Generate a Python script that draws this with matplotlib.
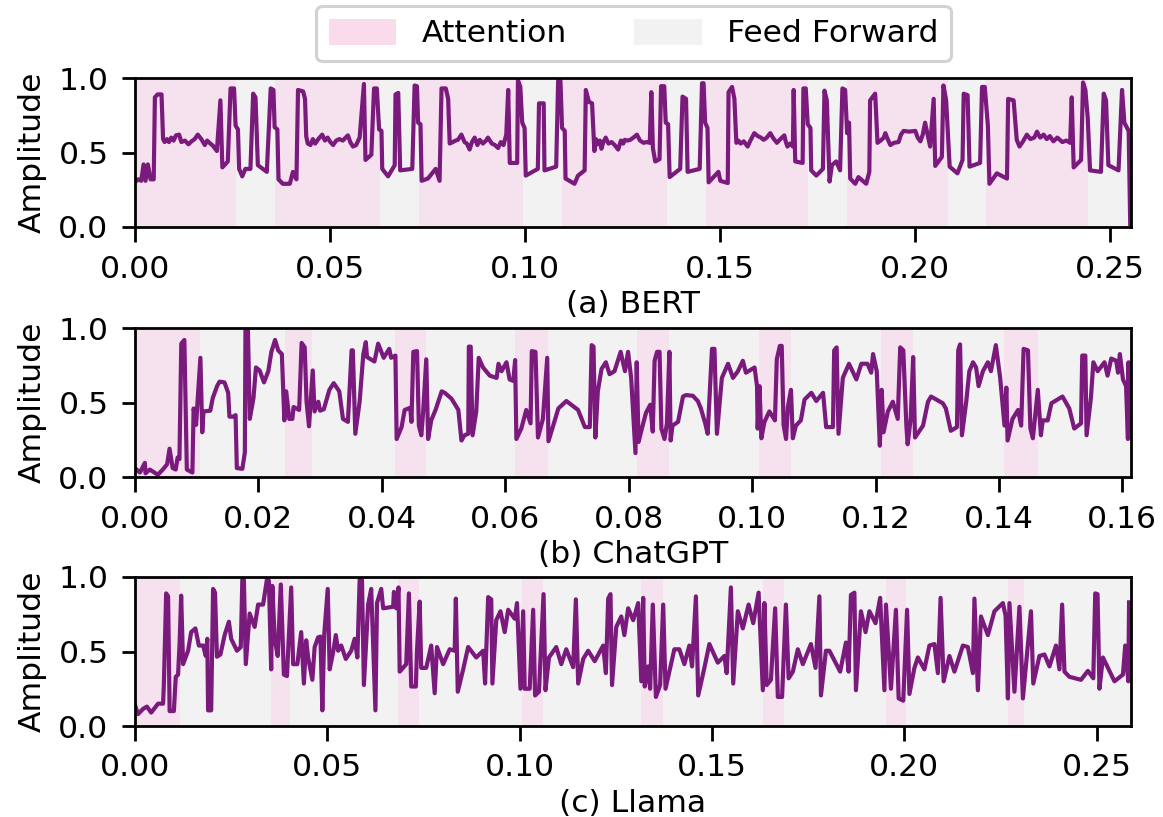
import numpy as np
import matplotlib
matplotlib.use('Agg')
import matplotlib.pyplot as plt
from matplotlib.patches import Patch

# (time in s, amplitude)
bert_trace = [
    (0.0000,.30),(.0008,.32),(.0016,.31),(.0022,.42),(.0027,.31),(.0033,.42),(.0040,.32),(.0048,.32),(.0051,.87),(.0058,.89),
    (.0068,.89),(.0072,.59),(.0076,.57),(.0082,.59),(.0087,.57),(.0093,.60),(.0099,.58),(.0105,.615),(.0113,.62),(.0119,.57),
    (.0128,.58),(.0137,.555),(.0145,.575),(.0153,.59),(.0161,.62),(.0170,.59),(.0179,.55),(.0185,.58),(.0191,.565),(.0200,.545),
    (.0210,.51),(.0219,.85),(.0224,.40),(.0238,.44),(.0245,.93),(.0254,.93),(.0258,.68),(.0264,.655),(.0267,.39),(.0275,.34),
    (.0283,.39),(.0296,.39),(.0303,.895),(.0309,.87),(.0315,.415),(.0338,.37),(.0348,.93),(.0355,.92),(.0358,.67),(.0365,.655),
    (.0368,.32),(.0379,.29),(.0397,.29),(.0405,.37),(.0414,.32),(.0418,.92),(.0431,.91),(.0436,.86),(.0439,.61),(.0443,.56),
    (.0450,.55),(.0456,.59),(.0462,.56),(.0470,.59),(.0480,.62),(.0487,.58),(.0494,.60),(.0501,.57),(.0508,.55),(.0516,.58),
    (.0524,.59),(.0533,.58),(.0540,.60),(.0546,.615),(.0552,.57),(.0559,.54),(.0567,.55),(.0576,.60),(.0587,.96),
    (.0591,.45),(.0606,.485),(.0613,.93),(.0620,.93),(.0626,.655),(.0632,.645),(.0634,.39),(.0649,.34),(.0666,.415),(.0668,.89),
    (.0675,.90),(.0680,.38),(.0711,.39),(.0717,.95),(.0723,.945),(.0726,.70),(.0732,.69),(.0735,.31),(.0751,.325),(.0771,.39),
    (.0781,.31),(.0786,.93),(.0797,.93),(.0803,.86),(.0807,.56),(.0815,.57),(.0822,.58),(.0828,.585),(.0837,.62),(.0845,.57),
    (.0851,.56),(.0858,.52),(.0864,.57),(.0871,.60),(.0878,.55),(.0884,.585),(.0892,.56),(.0900,.58),(.0905,.60),(.0915,.56),
    (.0923,.55),(.0931,.53),(.0938,.57),(.0945,.55),(.0952,.62),(.0957,.92),(.0961,.43),(.0980,.43),(.0982,.985),(.0988,.94),
    (.0993,.70),(.0999,.665),(.1002,.345),(.1033,.39),(.1036,.83),(.1048,.83),(.1050,.38),(.1080,.405),(.1085,.98),(.1091,.98),
    (.1095,.665),(.1102,.645),(.1104,.325),(.1127,.29),(.1136,.345),(.1153,.38),(.1156,.92),(.1164,.84),(.1172,.83),(.1178,.51),
    (.1182,.59),(.1187,.555),(.1192,.58),(.1196,.525),(.1201,.57),(.1207,.60),(.1214,.56),(.1222,.57),(.1230,.55),(.1239,.52),
    (.1246,.58),(.1252,.56),(.1256,.585),(.1263,.58),(.1270,.585),(.1278,.60),(.1287,.62),(.1295,.58),(.1304,.565),(.1312,.57),
    (.1320,.565),(.1324,.905),(.1328,.53),(.1334,.44),(.1345,.455),(.1349,.945),(.1357,.945),(.1361,.70),(.1367,.69),(.1371,.335),
    (.1398,.39),(.1404,.875),(.1413,.86),(.1417,.37),(.1448,.39),(.1454,.965),(.1458,.965),(.1462,.70),(.1468,.665),(.1471,.30),
    (.1496,.37),(.1501,.31),(.1520,.295),(.1522,.905),(.1531,.94),(.1537,.86),(.1542,.565),(.1547,.58),(.1553,.56),(.1561,.575),
    (.1571,.54),(.1578,.58),(.1588,.63),(.1597,.61),(.1605,.60),(.1612,.585),(.1620,.60),(.1629,.63),(.1637,.595),(.1646,.565),
    (.1655,.59),(.1665,.615),(.1669,.57),(.1673,.54),(.1680,.56),(.1687,.54),(.1689,.92),(.1693,.44),(.1712,.43),(.1714,.93),
    (.1720,.93),(.1725,.69),(.1732,.665),(.1734,.38),(.1747,.345),(.1764,.39),(.1768,.915),(.1774,.85),(.1781,.305),(.1787,.415),
    (.1798,.44),(.1808,.38),(.1814,.93),(.1821,.92),(.1826,.63),(.1831,.70),(.1834,.325),(.1847,.29),(.1855,.335),(.1875,.29),
    (.1883,.37),(.1885,.85),(.1898,.895),(.1904,.565),(.1912,.58),(.1920,.60),(.1924,.63),(.1930,.59),(.1937,.55),(.1946,.565),
    (.1958,.57),(.1964,.62),(.1971,.645),(.1985,.64),(.2001,.645),(.2007,.60),(.2014,.575),(.2020,.62),(.2026,.70),(.2039,.54),
    (.2048,.86),(.2052,.41),(.2069,.47),(.2073,.95),(.2080,.85),(.2089,.405),(.2109,.36),(.2122,.45),(.2125,.895),(.2135,.885),
    (.2140,.405),(.2167,.43),(.2172,.94),(.2179,.94),(.2187,.68),(.2191,.29),(.2210,.36),(.2236,.325),(.2239,.86),(.2253,.85),
    (.2261,.585),(.2268,.54),(.2276,.57),(.2287,.62),(.2296,.59),(.2306,.60),(.2313,.64),(.2321,.60),(.2330,.62),(.2338,.59),
    (.2346,.61),(.2355,.575),(.2365,.60),(.2378,.57),(.2388,.58),(.2398,.565),(.2402,.87),(.2407,.40),(.2426,.45),(.2431,.97),
    (.2437,.92),(.2443,.735),(.2449,.38),(.2477,.37),(.2484,.895),(.2490,.85),(.2496,.415),(.2522,.38),(.2531,.92),(.2537,.70),
    (.2548,.645),(.2552,.02),
]
chatgpt_trace = [
    (0.0000,.06),(.0008,.03),(.0016,.095),(.0017,.025),(.0024,.05),(.0037,.015),(.0045,.05),(.0052,.085),(.0056,.19),(.0061,.06),
    (.0066,.05),(.0069,.13),(.0072,.12),(.0075,.895),(.0080,.92),(.0084,.05),(.0093,.03),(.0095,.46),(.0099,.35),(.0101,.485),
    (.0106,.80),(.0109,.30),(.0111,.44),(.0122,.445),(.0126,.53),(.0133,.61),(.0137,.64),(.0145,.635),(.0151,.565),(.0153,.405),
    (.0159,.405),(.0163,.415),(.0165,.06),(.0174,.055),(.0178,.165),(.0179,.985),(.0183,.985),(.0186,.39),(.0192,.53),(.0196,.735),
    (.0202,.715),(.0209,.635),(.0216,.71),(.0221,.84),(.0227,.92),(.0232,.85),(.0238,.825),(.0242,.38),(.0245,.575),(.0250,.39),
    (.0255,.39),(.0257,.47),(.0266,.45),(.0270,.90),(.0275,.87),(.0278,.505),(.0282,.34),(.0288,.715),(.0291,.44),(.0297,.505),
    (.0300,.445),(.0306,.455),(.0315,.585),(.0322,.63),(.0331,.575),(.0337,.39),(.0345,.37),(.0351,.85),(.0353,.85),(.0357,.29),
    (.0364,.505),(.0370,.825),(.0374,.905),(.0376,.805),(.0388,.775),(.0394,.895),(.0403,.80),(.0412,.86),(.0415,.80),(.0422,.815),
    (.0424,.255),(.0432,.335),(.0437,.45),(.0446,.465),(.0448,.37),(.0451,.84),(.0457,.845),(.0460,.345),(.0464,.28),(.0467,.44),
    (.0472,.79),(.0475,.255),(.0480,.38),(.0487,.45),(.0497,.575),(.0502,.565),(.0513,.525),(.0524,.45),(.0529,.245),(.0534,.28),
    (.0540,.29),(.0541,.875),(.0544,.875),(.0547,.28),(.0553,.44),(.0557,.80),(.0564,.735),(.0575,.68),(.0586,.665),(.0589,.76),
    (.0594,.71),(.0602,.77),(.0607,.655),(.0613,.645),(.0616,.785),(.0618,.255),(.0626,.325),(.0634,.45),(.0641,.36),(.0643,.845),
    (.0649,.84),(.0653,.265),(.0661,.39),(.0668,.80),(.0670,.24),(.0677,.335),(.0686,.46),(.0699,.51),(.0718,.45),(.0729,.335),
    (.0737,.335),(.0740,.885),(.0743,.875),(.0746,.265),(.0750,.575),(.0756,.725),(.0763,.77),(.0769,.69),(.0777,.71),(.0787,.84),
    (.0794,.71),(.0799,.84),(.0804,.665),(.0811,.16),(.0813,.77),(.0816,.235),(.0822,.335),(.0828,.43),(.0835,.485),(.0839,.305),
    (.0842,.78),(.0846,.84),(.0850,.84),(.0853,.325),(.0858,.255),(.0862,.36),(.0866,.84),(.0868,.245),(.0871,.345),(.0880,.37),
    (.0888,.54),(.0893,.55),(.0904,.545),(.0912,.51),(.0917,.46),(.0924,.36),(.0928,.29),(.0935,.86),(.0939,.86),(.0943,.29),
    (.0951,.665),(.0961,.76),(.0969,.665),(.0977,.71),(.0985,.78),(.0990,.70),(.1004,.735),(.1008,.61),(.1009,.325),(.1012,.61),
    (.1015,.26),(.1020,.37),(.1028,.44),(.1037,.38),(.1040,.79),(.1045,.88),(.1048,.88),(.1051,.35),(.1055,.255),(.1058,.47),
    (.1063,.585),(.1066,.26),(.1071,.345),(.1079,.38),(.1085,.52),(.1096,.565),(.1104,.51),(.1115,.565),(.1120,.335),(.1131,.335),
    (.1133,.85),(.1137,.87),(.1140,.29),(.1147,.665),(.1157,.76),(.1169,.655),(.1177,.76),(.1187,.76),(.1193,.70),(.1196,.825),
    (.1202,.71),(.1207,.21),(.1210,.585),(.1213,.30),(.1220,.44),(.1228,.505),(.1236,.39),(.1240,.87),(.1245,.85),(.1250,.345),
    (.1252,.22),(.1257,.39),(.1261,.805),(.1264,.265),(.1277,.345),(.1285,.505),(.1290,.54),(.1309,.495),(.1314,.46),(.1322,.31),
    (.1332,.335),(.1334,.85),(.1337,.89),(.1340,.28),(.1347,.505),(.1352,.71),(.1358,.77),(.1363,.735),(.1367,.61),(.1374,.71),
    (.1382,.77),(.1387,.71),(.1395,.885),(.1402,.665),(.1409,.345),(.1412,.60),(.1414,.245),(.1422,.39),(.1431,.45),(.1436,.345),
    (.1440,.86),(.1447,.85),(.1451,.325),(.1455,.26),(.1463,.585),(.1468,.28),(.1471,.38),(.1479,.38),(.1485,.495),(.1503,.54),
    (.1514,.46),(.1522,.325),(.1533,.36),(.1535,.815),(.1540,.815),(.1542,.28),(.1549,.53),(.1553,.77),(.1560,.71),(.1571,.77),
    (.1576,.68),(.1582,.795),(.1590,.78),(.1593,.70),(.1596,.825),(.1601,.655),(.1606,.61),(.1609,.255),(.1610,.77),(.1612,.27),
]
llama_trace = [
    (0.0000,.14),(.0008,.08),(.0021,.115),(.0031,.13),(.0042,.09),(.0060,.15),(.0073,.15),(.0075,.275),(.0081,.89),(.0086,.87),
    (.0090,.10),(.0101,.10),(.0106,.33),(.0112,.345),(.0116,.56),(.0120,.875),(.0125,.415),(.0138,.505),(.0146,.63),(.0157,.655),
    (.0166,.54),(.0177,.54),(.0184,.47),(.0188,.585),(.0190,.105),(.0198,.105),(.0203,.92),(.0208,.895),(.0213,.465),(.0222,.48),
    (.0233,.61),(.0244,.70),(.0250,.585),(.0265,.505),(.0275,.53),(.0279,.985),(.0283,.985),(.0288,.415),(.0298,.755),(.0311,.665),
    (.0320,.815),(.0333,.815),(.0343,.985),(.0348,.975),(.0354,.38),(.0357,.94),(.0363,.585),(.0371,.47),(.0379,.95),(.0387,.345),
    (.0395,.335),(.0406,.93),(.0411,.415),(.0422,.415),(.0432,.63),(.0439,.285),(.0445,.575),(.0450,.46),(.0461,.31),(.0467,.53),
    (.0476,.595),(.0482,.60),(.0487,.105),(.0492,.62),(.0501,.92),(.0506,.38),(.0515,.495),(.0522,.61),(.0528,.505),(.0536,.54),
    (.0548,.45),(.0562,.505),(.0571,.585),(.0578,.46),(.0584,.985),(.0590,.985),(.0595,.275),(.0606,.815),(.0614,.92),(.0625,.105),
    (.0629,.825),(.0640,.92),(.0645,.79),(.0671,.80),(.0673,.90),(.0679,.79),(.0685,.93),(.0688,.365),(.0705,.415),(.0712,.89),
    (.0718,.265),(.0730,.265),(.0733,.505),(.0740,.835),(.0744,.39),(.0757,.39),(.0770,.54),(.0779,.22),(.0785,.53),(.0801,.415),
    (.0818,.515),(.0831,.505),(.0834,.855),(.0839,.23),(.0853,.38),(.0866,.53),(.0887,.46),(.0905,.505),(.0910,.285),(.0918,.865),
    (.0926,.85),(.0929,.285),(.0939,.71),(.0950,.77),(.0961,.63),(.0970,.78),(.0987,.72),(.0993,.825),(.1002,.25),(.1009,.77),
    (.1013,.25),(.1026,.25),(.1035,.78),(.1040,.205),(.1050,.23),(.1062,.885),(.1067,.24),(.1076,.46),(.1095,.53),(.1108,.415),
    (.1121,.515),(.1139,.395),(.1146,.85),(.1152,.285),(.1165,.45),(.1178,.505),(.1195,.435),(.1217,.54),(.1224,.355),(.1230,.855),
    (.1236,.885),(.1240,.275),(.1251,.665),(.1264,.735),(.1272,.61),(.1282,.79),(.1295,.71),(.1308,.825),(.1316,.30),(.1321,.86),
    (.1325,.265),(.1334,.40),(.1339,.25),(.1346,.815),(.1354,.195),(.1365,.275),(.1373,.815),(.1379,.25),(.1389,.365),(.1402,.515),
    (.1415,.515),(.1428,.415),(.1441,.54),(.1448,.40),(.1458,.87),(.1464,.205),(.1480,.39),(.1493,.55),(.1515,.425),(.1532,.47),
    (.1538,.355),(.1549,.93),(.1555,.285),(.1567,.77),(.1580,.655),(.1595,.815),(.1607,.69),(.1621,.895),(.1632,.24),(.1636,.825),
    (.1642,.275),(.1653,.31),(.1664,.79),(.1671,.195),(.1682,.195),(.1692,.815),(.1699,.32),(.1710,.365),(.1723,.515),(.1736,.415),
    (.1757,.55),(.1769,.39),(.1779,.87),(.1783,.205),(.1796,.505),(.1805,.505),(.1833,.365),(.1848,.56),(.1855,.365),(.1861,.88),
    (.1870,.895),(.1874,.24),(.1887,.77),(.1899,.63),(.1909,.77),(.1925,.69),(.1937,.86),(.1948,.24),(.1952,.815),(.1965,.25),
    (.1978,.78),(.1985,.185),(.1997,.17),(.2007,.78),(.2013,.215),(.2026,.39),(.2035,.46),(.2052,.38),(.2065,.54),(.2078,.55),
    (.2087,.355),(.2094,.86),(.2102,.30),(.2117,.47),(.2130,.365),(.2152,.54),(.2165,.53),(.2178,.355),(.2182,.855),(.2191,.24),
    (.2199,.735),(.2217,.61),(.2234,.77),(.2256,.825),(.2263,.74),(.2269,.185),(.2273,.825),(.2286,.23),(.2299,.80),(.2308,.185),
    (.2329,.77),(.2335,.285),(.2351,.47),(.2364,.48),(.2377,.40),(.2394,.54),(.2403,.38),(.2410,.815),(.2416,.365),(.2429,.33),
    (.2459,.31),(.2477,.37),(.2491,.32),(.2496,.89),(.2502,.885),(.2507,.25),(.2516,.46),(.2546,.30),(.2568,.345),(.2574,.54),
    (.2582,.30),(.2584,.83),
]

bert_attention = [(0, .026), (.036, .0627), (.0729, .0995), (.1095, .1363), (.1464, .1726), (.1826, .2085), (.2182, .2444)]
chatgpt_attention = [(0, .0106), (.0243, .0287), (.0422, .0472), (.0616, .0669), (.0813, .0865), (.1011, .1063), (.1209, .1260), (.1409, .1463)]
llama_attention = [(0, .0116), (.0354, .0402), (.0684, .0737), (.1005, .1060), (.1316, .1373), (.1633, .1688), (.1951, .2004), (.2269, .2312)]

xlabels = ['(a) BERT', '(b) ChatGPT', '(c) Llama']
xlimits = [.2554, .1614, .2589]
xtick_steps = [.05, .02, .05]
legend_labels = ['Attention', 'Feed Forward']

LINE_COLOR = '#7a1a7d'
ATT_COLOR = '#f6e1ee'
FF_COLOR = '#f2f2f2'
W, H = 1163, 817

plt.rcParams['font.size'] = 22.6
fig = plt.figure(figsize=(W / 100, H / 100), dpi=100)

traces = [bert_trace, chatgpt_trace, llama_trace]
attentions = [bert_attention, chatgpt_attention, llama_attention]
tops = [78, 328, 577]
for i in range(3):
    ax = fig.add_axes([135 / W, 1 - (tops[i] + 149) / H, 996 / W, 149 / H])
    ax.set_facecolor(FF_COLOR)
    for Start, End in attentions[i]:
        ax.axvspan(Start, End, color=ATT_COLOR, lw=0)
    T, A = np.array(traces[i]).T
    ax.plot(T, A, color=LINE_COLOR, lw=3)
    ax.set_xlim(0, xlimits[i])
    ax.set_ylim(0, 1)
    ax.set_yticks([0, .5, 1])
    ax.set_xticks(np.arange(0, xlimits[i], xtick_steps[i]))
    ax.xaxis.set_major_formatter('{x:.2f}')
    ax.tick_params(axis='x', width=2, length=10.5, pad=9.3)
    ax.tick_params(axis='y', width=2, length=9.5, pad=9.5)
    for Spine in ax.spines.values():
        Spine.set_linewidth(2)
    ax.set_xlabel(xlabels[i], labelpad=4.5)
    ax.set_ylabel('Amplitude')
    ax.yaxis.set_label_coords(-88 / 996, .5)

Handles = [Patch(color='#f9dbeb', lw=0), Patch(color=FF_COLOR, lw=0)]
fig.legend(Handles, legend_labels, ncol=2, loc='upper center', bbox_to_anchor=(633.5 / W, 1 - 6 / H), borderaxespad=0,
           handlelength=2.15, handleheight=.9, handletextpad=.8, columnspacing=2.15,
           framealpha=1, edgecolor='#d2d2d2', fontsize=22.6).get_frame().set_linewidth(2.2)

fig.savefig('out.png', dpi=100)
